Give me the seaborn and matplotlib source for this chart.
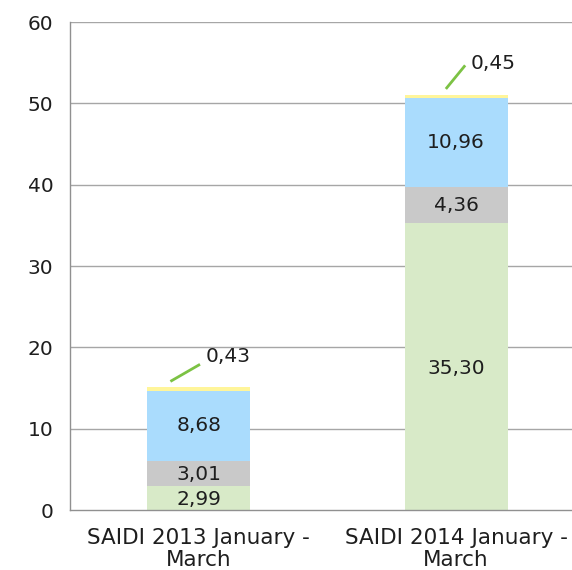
import matplotlib
matplotlib.use("Agg")
import matplotlib.pyplot as plt
import seaborn as sns
import numpy as np
import pandas as pd

categories = ["SAIDI 2013 January -\nMarch", "SAIDI 2014 January -\nMarch"]
seg1 = [2.99, 35.30]   # green
seg2 = [3.01, 4.36]    # gray
seg3 = [8.68, 10.96]   # blue
seg4 = [0.43, 0.45]    # yellow
labels1 = ["2,99", "35,30"]
labels2 = ["3,01", "4,36"]
labels3 = ["8,68", "10,96"]
labels4 = ["0,43", "0,45"]
yticks = [0, 10, 20, 30, 40, 50, 60]

colors = ["#d8eac8", "#c9c9c9", "#aadcfd", "#fff59a"]

sns.set_theme(style="white")
plt.rcParams['font.family'] = ['DejaVu Sans']

fig = plt.figure(figsize=(5.72, 5.70), dpi=100)
ax = fig.add_axes([70/572, 60/570, 502/572, 488/570])

segs = [seg1, seg2, seg3, seg4]
cum = np.cumsum(np.array(segs), axis=0)
for i in range(3, -1, -1):
    df = pd.DataFrame({"cat": categories, "val": cum[i]})
    sns.barplot(data=df, x="cat", y="val", color=colors[i], width=0.4,
                saturation=1, ax=ax, zorder=3, edgecolor="none", linewidth=0)

fs = 14.5
tc = "#1e1e1e"
ax.set_xlim(-0.5, 1.45)
ax.set_ylim(0, 60)
ax.set_yticks(yticks)
ax.set_yticklabels([str(t) for t in yticks], fontsize=fs, color=tc)
ax.set_xticks([0, 1])
ax.set_xticklabels(categories, fontsize=15.5, color=tc, linespacing=1.15)
ax.set_xticks([-0.5, 0.5], minor=True)
ax.tick_params(axis="x", which="major", length=0, pad=13)
ax.tick_params(axis="x", which="minor", length=5, color="#909090", width=1, direction="out")
ax.tick_params(axis="y", length=5, color="#909090", width=1, direction="out", pad=7)
ax.set_xlabel("")
ax.set_ylabel("")

for t in yticks[1:]:
    ax.axhline(t, color="#a6a6a6", lw=1, zorder=1)
for s in ["top", "right"]:
    ax.spines[s].set_visible(False)
for s in ["left", "bottom"]:
    ax.spines[s].set_color("#909090")
    ax.spines[s].set_linewidth(1)
    ax.spines[s].set_zorder(4)

for j in range(2):
    ax.text(j, seg1[j] / 2 - 0.2, labels1[j], ha="center", va="center", fontsize=fs, color=tc, zorder=5)
    ax.text(j, seg1[j] + seg2[j] / 2 - 0.1, labels2[j], ha="center", va="center", fontsize=fs, color=tc, zorder=5)
    ax.text(j, seg1[j] + seg2[j] + seg3[j] / 2, labels3[j], ha="center", va="center", fontsize=fs, color=tc, zorder=5)
    top = cum[3][j]
    x0 = -0.11 if j == 0 else 0.96
    x1 = 0.005 if j == 0 else 1.035
    ax.plot([x0, x1], [top + 0.7, top + 2.8 if j == 0 else top + 3.6], color="#7cc244", lw=2, zorder=5, solid_capstyle="butt")
    ax.text(x1 + 0.02, top + 3.8, labels4[j], ha="left", va="center", fontsize=fs, color=tc, zorder=5)

fig.savefig("out.png", dpi=100)
